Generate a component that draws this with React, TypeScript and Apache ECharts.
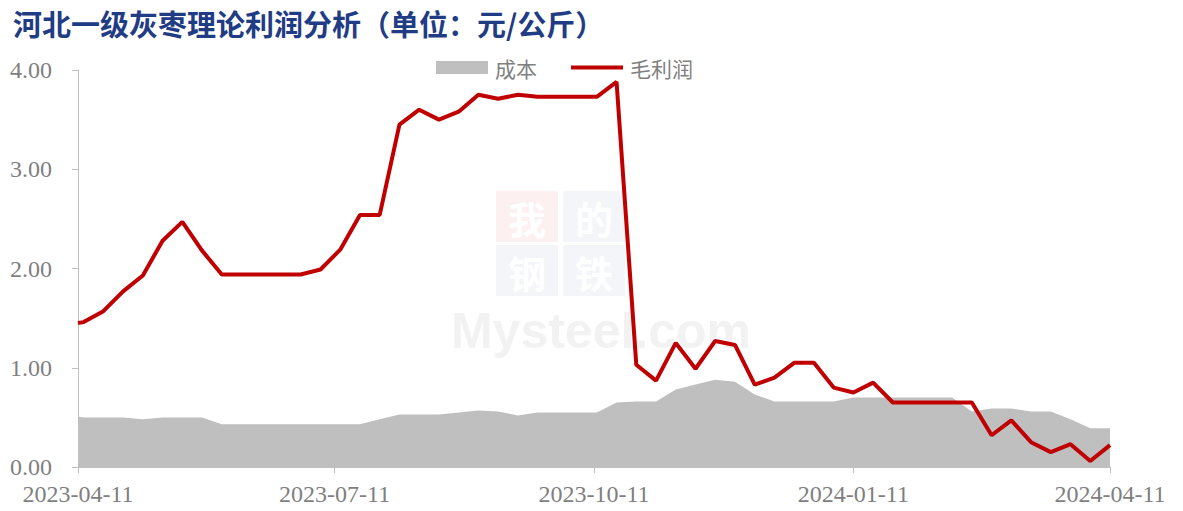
import React, { useEffect, useRef } from "react";
import * as echarts from "echarts";

const dates: string[] = [
  "2023-04-11", "2023-04-13", "2023-04-20", "2023-04-27", "2023-05-04", "2023-05-11",
  "2023-05-18", "2023-05-25", "2023-06-01", "2023-06-08", "2023-06-15", "2023-06-22",
  "2023-06-29", "2023-07-06", "2023-07-13", "2023-07-20", "2023-07-27", "2023-08-03",
  "2023-08-10", "2023-08-17", "2023-08-24", "2023-08-31", "2023-09-07", "2023-09-14",
  "2023-09-21", "2023-09-28", "2023-10-05", "2023-10-12", "2023-10-19", "2023-10-26",
  "2023-11-02", "2023-11-09", "2023-11-16", "2023-11-23", "2023-11-30", "2023-12-07",
  "2023-12-14", "2023-12-21", "2023-12-28", "2024-01-04", "2024-01-11", "2024-01-18",
  "2024-01-25", "2024-02-01", "2024-02-08", "2024-02-15", "2024-02-22", "2024-02-29",
  "2024-03-07", "2024-03-14", "2024-03-21", "2024-03-28", "2024-04-04", "2024-04-11",
];

const cost: number[] = [
  0.51, 0.5, 0.5, 0.5, 0.48, 0.5, 0.5, 0.5, 0.43, 0.43, 0.43, 0.43,
  0.43, 0.43, 0.43, 0.43, 0.48, 0.53, 0.53, 0.53, 0.55, 0.57, 0.56, 0.52,
  0.55, 0.55, 0.55, 0.55, 0.65, 0.66, 0.66, 0.78, 0.83, 0.88, 0.86, 0.73,
  0.66, 0.66, 0.66, 0.66, 0.7, 0.7, 0.7, 0.7, 0.7, 0.7, 0.56, 0.59,
  0.59, 0.56, 0.56, 0.48, 0.39, 0.39,
];

const profit: number[] = [
  1.45, 1.46, 1.57, 1.77, 1.93, 2.28, 2.47, 2.18, 1.94, 1.94, 1.94, 1.94,
  1.94, 1.99, 2.19, 2.54, 2.54, 3.45, 3.6, 3.5, 3.58, 3.75, 3.71, 3.75,
  3.73, 3.73, 3.73, 3.73, 3.88, 1.03, 0.87, 1.25, 0.99, 1.27, 1.23, 0.83,
  0.9, 1.05, 1.05, 0.8, 0.75, 0.85, 0.65, 0.65, 0.65, 0.65, 0.65, 0.32,
  0.47, 0.25, 0.15, 0.23, 0.06, 0.22,
];

const xTickLabels: string[] = ["2023-04-11", "2023-07-11", "2023-10-11", "2024-01-11", "2024-04-11"];

const seriesNames: string[] = ["成本", "毛利润"];
const titleText = "河北一级灰枣理论利润分析（单位：元/公斤）";

const DAY = 86400000;
function ts(s: string): number {
  const [y, m, d] = s.split("-").map(Number);
  return Date.UTC(y, m - 1, d);
}
const t0 = ts(dates[0]);
function dayOf(s: string): number {
  return Math.round((ts(s) - t0) / DAY);
}
function fmt(day: number): string {
  const d = new Date(t0 + day * DAY);
  const p = (n: number) => (n < 10 ? "0" + n : "" + n);
  return d.getUTCFullYear() + "-" + p(d.getUTCMonth() + 1) + "-" + p(d.getUTCDate());
}

export default function App() {
  const ref = useRef<HTMLDivElement>(null);
  useEffect(() => {
    document.body.style.margin = "0";
    if (!ref.current) return;
    const chart = echarts.init(ref.current, null, { renderer: "svg" });
    const tickVals = xTickLabels.map(dayOf);
    const serif = "'Liberation Serif', 'Times New Roman', serif";
    const cjk = "'Noto Sans CJK SC', sans-serif";
    const wm = "bold 38px 'Noto Sans CJK SC'";
    chart.setOption({
      animation: false,
      backgroundColor: "#ffffff",
      title: {
        text: titleText,
        left: 8,
        top: 3,
        textStyle: { fontFamily: cjk, fontSize: 29, fontWeight: "bold", color: "#1F3C85" },
      },
      legend: {
        left: 436,
        top: 57,
        padding: 0,
        itemWidth: 52,
        itemHeight: 13,
        itemGap: 32,
        textStyle: { fontFamily: cjk, fontSize: 21, color: "#808080", padding: [0, 0, 0, 2] },
        data: [
          { name: seriesNames[0], icon: "rect", itemStyle: { color: "#BFBFBF" } },
          { name: seriesNames[1], itemStyle: { opacity: 0 }, lineStyle: { width: 4, color: "#C00000" } },
        ],
      },
      graphic: [
        { type: "rect", z: 0, shape: { x: 496, y: 191, width: 62, height: 51 }, style: { fill: "#FCF0F0" } },
        { type: "rect", z: 0, shape: { x: 563, y: 191, width: 62, height: 51 }, style: { fill: "#F4F5F8" } },
        { type: "rect", z: 0, shape: { x: 496, y: 245, width: 62, height: 51 }, style: { fill: "#F4F5F8" } },
        { type: "rect", z: 0, shape: { x: 563, y: 245, width: 62, height: 51 }, style: { fill: "#F4F5F8" } },
        { type: "text", z: 1, x: 527, y: 217, style: { text: "我", fill: "#ffffff", font: wm, align: "center", verticalAlign: "middle" } },
        { type: "text", z: 1, x: 594, y: 217, style: { text: "的", fill: "#ffffff", font: wm, align: "center", verticalAlign: "middle" } },
        { type: "text", z: 1, x: 527, y: 271, style: { text: "钢", fill: "#ffffff", font: wm, align: "center", verticalAlign: "middle" } },
        { type: "text", z: 1, x: 594, y: 271, style: { text: "铁", fill: "#ffffff", font: wm, align: "center", verticalAlign: "middle" } },
        { type: "text", z: 1, x: 601, y: 331, style: { text: "Mysteel.com", fill: "#F2F2F2", font: "bold 50px 'Liberation Sans'", align: "center", verticalAlign: "middle" } },
      ],
      grid: { left: 78, right: 73, top: 70, bottom: 44, containLabel: false },
      xAxis: {
        type: "value",
        min: 0,
        max: dayOf(dates[dates.length - 1]),
        axisLine: { lineStyle: { color: "#BFBFBF", width: 1 } },
        axisTick: { show: true, length: 6, customValues: tickVals, lineStyle: { color: "#BFBFBF" } },
        axisLabel: {
          customValues: tickVals,
          formatter: (v: number) => fmt(v),
          fontFamily: serif,
          fontSize: 24,
          color: "#7F7F7F",
          margin: 15,
        },
        splitLine: { show: false },
      },
      yAxis: {
        type: "value",
        min: 0,
        max: 4,
        interval: 1,
        axisLine: { show: true, lineStyle: { color: "#BFBFBF", width: 1 } },
        axisTick: { show: true, length: 6, lineStyle: { color: "#BFBFBF" } },
        axisLabel: {
          formatter: (v: number) => v.toFixed(2),
          fontFamily: serif,
          fontSize: 24,
          color: "#7F7F7F",
          margin: 26,
        },
        splitLine: { show: false },
      },
      series: [
        {
          name: seriesNames[0],
          type: "line",
          data: dates.map((d, i) => [dayOf(d), cost[i]]),
          symbol: "none",
          lineStyle: { width: 0, color: "#BFBFBF" },
          itemStyle: { color: "#BFBFBF" },
          areaStyle: { color: "#BFBFBF", opacity: 1 },
          z: 2,
        },
        {
          name: seriesNames[1],
          type: "line",
          data: dates.map((d, i) => [dayOf(d), profit[i]]),
          symbol: "none",
          lineStyle: { width: 4, color: "#C00000" },
          itemStyle: { color: "#C00000" },
          z: 3,
        },
      ],
    });
    return () => chart.dispose();
  }, []);
  return <div ref={ref} style={{ width: 1183, height: 511 }} />;
}
